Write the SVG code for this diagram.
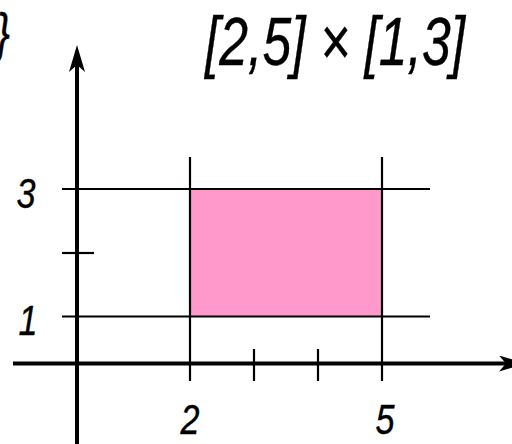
<svg xmlns="http://www.w3.org/2000/svg" width="512" height="444" viewBox="0 0 512 444">
<style>
.lbl{font-family:"Liberation Sans",Arial,sans-serif;font-style:italic;fill:#000;stroke:#000;stroke-width:0.4}
.axis{stroke:#000;stroke-width:4;fill:none}
.grid{stroke:#000;stroke-width:2.2;fill:none}
</style>
<defs>
<marker id="arr" markerUnits="userSpaceOnUse" viewBox="0 0 27 16" refX="7" refY="8" markerWidth="27" markerHeight="16" orient="auto">
<path d="M0,0 L27,8 L0,16 L7,8 Z" fill="#000"/>
</marker>
</defs>
<rect width="512" height="444" fill="#fff"/>
<g id="region">
<rect x="190" y="189" width="192" height="127.5" fill="#FF99CC"/>
</g>
<g id="connectors">
<g id="grid">
<line class="grid" x1="62" y1="189" x2="430" y2="189"/>
<line class="grid" x1="62" y1="316.5" x2="430" y2="316.5"/>
<line class="grid" x1="190" y1="157" x2="190" y2="381"/>
<line class="grid" x1="382" y1="157" x2="382" y2="381"/>
<line class="grid" x1="254" y1="349" x2="254" y2="381"/>
<line class="grid" x1="318" y1="349" x2="318" y2="381"/>
<line class="grid" x1="62" y1="253" x2="94" y2="253"/>
</g>
<g id="axes">
<line class="axis" x1="13" y1="363.5" x2="506" y2="363.5" marker-end="url(#arr)"/>
<line class="axis" x1="77" y1="444" x2="77" y2="65" marker-end="url(#arr)"/>
</g>
</g>
<g id="labels">
<text class="lbl" x="-4" y="51" font-size="53" textLength="14" lengthAdjust="spacingAndGlyphs">}</text>
<text class="lbl" x="205" y="65" font-size="69" textLength="260" lengthAdjust="spacingAndGlyphs">[2,5] × [1,3]</text>
<text class="lbl" x="26" y="208" font-size="42" text-anchor="middle" textLength="19" lengthAdjust="spacingAndGlyphs">3</text>
<text class="lbl" x="28" y="335" font-size="42" text-anchor="middle" textLength="19" lengthAdjust="spacingAndGlyphs">1</text>
<text class="lbl" x="190" y="434" font-size="42" text-anchor="middle" textLength="19" lengthAdjust="spacingAndGlyphs">2</text>
<text class="lbl" x="385" y="434" font-size="42" text-anchor="middle" textLength="19" lengthAdjust="spacingAndGlyphs">5</text>
</g>
</svg>
